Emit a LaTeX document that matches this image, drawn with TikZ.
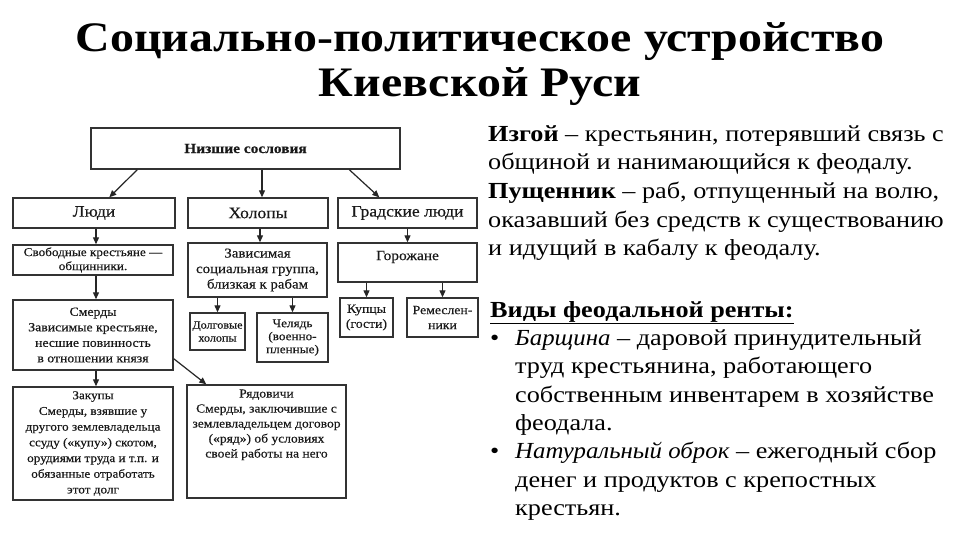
\documentclass[tikz,border=0pt]{standalone}
\usepackage{fontspec}
\setmainfont{Liberation Serif}[FakeStretch=1.14, ItalicFeatures={FakeStretch=1.08}]
\newfontfamily\boxfont{Liberation Serif}[FakeStretch=1.1, FakeBold=0.4]
\usetikzlibrary{arrows.meta,calc}
\newcommand{\fs}[2]{\fontsize{#1}{#2}\selectfont}
\begin{document}
\begin{tikzpicture}[x=1pt,y=-1pt,
  box/.style={draw=black!80, line width=1.4pt, align=center, inner sep=1pt, text=black!90},
  arr/.style={-{Triangle[length=7pt,width=6pt]}, line width=1.2pt, draw=black!85},
  rt/.style={anchor=base west, inner sep=0pt, font=\fs{23}{28}},
  ttl/.style={anchor=base, inner sep=0pt, font=\bfseries\fs{42}{48}}]
\useasboundingbox[fill=white] (0,0) rectangle (960,540);
% title
\node[ttl] (t1) at (480,52) {Социально-политическое устройство};
\node[ttl] (t2) at (480,97) {Киевской Руси};
% boxes
\node[box, minimum width=309pt, minimum height=41pt, font=\boxfont\bfseries\fs{14}{16}] (low) at (245.5,148.5) {Низшие сословия};
\node[box, minimum width=162pt, minimum height=30pt, font=\boxfont\fs{16}{18}] (ludi) at (94,213) {Люди};
\node[box, minimum width=140pt, minimum height=30pt, font=\boxfont\fs{16}{18}] (holop) at (258,213) {Холопы};
\node[box, minimum width=139pt, minimum height=30pt, font=\boxfont\fs{16}{18}] (grad) at (407.5,213) {Градские люди};
\node[box, minimum width=160pt, minimum height=30pt, font=\boxfont\fs{12}{14}] (svob) at (93,260) {Свободные крестьяне —\\общинники.};
\node[box, minimum width=139pt, minimum height=54pt, font=\boxfont\fs{13.5}{15.5}] (zavis) at (257.5,270) {Зависимая\\социальная группа,\\близкая к рабам};
\node[box, minimum width=139pt, minimum height=39pt, text depth=14pt, font=\boxfont\fs{14}{16}] (gorozh) at (407.5,262.5) {Горожане};
\node[box, minimum width=160pt, minimum height=70pt, font=\boxfont\fs{12.5}{15.5}] (smerdy) at (93,335) {Смерды\\Зависимые крестьяне,\\несшие повинность\\в отношении князя};
\node[box, minimum width=55pt, minimum height=37pt, font=\boxfont\fs{11}{13}] (dolg) at (217.5,331.5) {Долговые\\холопы};
\node[box, minimum width=71pt, minimum height=49pt, font=\boxfont\fs{12}{13}] (chel) at (292.5,337.5) {Челядь\\(военно-\\пленные)};
\node[box, minimum width=53pt, minimum height=39pt, font=\boxfont\fs{12.5}{15}] (kupcy) at (366.5,317.5) {Купцы\\(гости)};
\node[box, minimum width=71pt, minimum height=39pt, font=\boxfont\fs{12.5}{15}] (remes) at (442.5,317.5) {Ремеслен-\\ники};
\node[box, minimum width=160pt, minimum height=113pt, font=\boxfont\fs{12}{15.7}] (zakup) at (93,443.5) {Закупы\\Смерды, взявшие у\\другого землевладельца\\ссуду («купу») скотом,\\орудиями труда и т.п. и\\обязанные отработать\\этот долг};
\node[box, minimum width=159pt, minimum height=113pt, text depth=36pt, font=\boxfont\fs{12.3}{15}] (ryad) at (266.5,441.5) {Рядовичи\\Смерды, заключившие с\\землевладельцем договор\\(«ряд») об условиях\\своей работы на него};
% arrows
\draw[arr] ($(low.south west)+(47,0)$) -- ($(ludi.north west)+(97,0)$);
\draw[arr] ([xshift=4pt]holop.north |- low.south) -- ([xshift=4pt]holop.north);
\draw[arr] ($(low.south west)+(259,0)$) -- ($(grad.north west)+(42,0)$);
\draw[arr] ([xshift=2pt]ludi.south) -- ([xshift=2pt]ludi.south |- svob.north);
\draw[arr] ([xshift=2pt]holop.south) -- ([xshift=2pt]holop.south |- zavis.north);
\draw[arr] (grad.south) -- (grad.south |- gorozh.north);
\draw[arr] ([xshift=3pt]svob.south) -- ([xshift=3pt]svob.south |- smerdy.north);
\draw[arr] (dolg.north |- zavis.south) -- (dolg.north);
\draw[arr] (chel.north |- zavis.south) -- (chel.north);
\draw[arr] (kupcy.north |- gorozh.south) -- (kupcy.north);
\draw[arr] (remes.north |- gorozh.south) -- (remes.north);
\draw[arr] ([xshift=3pt]smerdy.south) -- ([xshift=3pt]smerdy.south |- zakup.north);
\draw[arr] ($(smerdy.south east)+(0,-12)$) -- ($(ryad.north west)+(20,0)$);
% right text
\node[rt] (r1) at (488,142) {\textbf{Изгой} – крестьянин, потерявший связь с};
\node[rt] (r2) at (488,170) {общиной и нанимающийся к феодалу.};
\node[rt] (r3) at (488,198) {\textbf{Пущенник} – раб, отпущенный на волю,};
\node[rt] (r4) at (488,227) {оказавший без средств к существованию};
\node[rt] (r5) at (488,255) {и идущий в кабалу к феодалу.};
\node[rt] (v1) at (490,317) {\textbf{\underline{Виды феодальной ренты:}}};
\node[rt] (b1) at (490,345) {•};
\node[rt] (v2) at (515,345) {\textit{Барщина} – даровой принудительный};
\node[rt] (v3) at (515,373) {труд крестьянина, работающего};
\node[rt] (v4) at (515,402) {собственным инвентарем в хозяйстве};
\node[rt] (v5) at (515,430) {феодала.};
\node[rt] (b2) at (490,458) {•};
\node[rt] (v6) at (515,458) {\textit{Натуральный оброк} – ежегодный сбор};
\node[rt] (v7) at (515,487) {денег и продуктов с крепостных};
\node[rt] (v8) at (515,515) {крестьян.};
\end{tikzpicture}
\end{document}
